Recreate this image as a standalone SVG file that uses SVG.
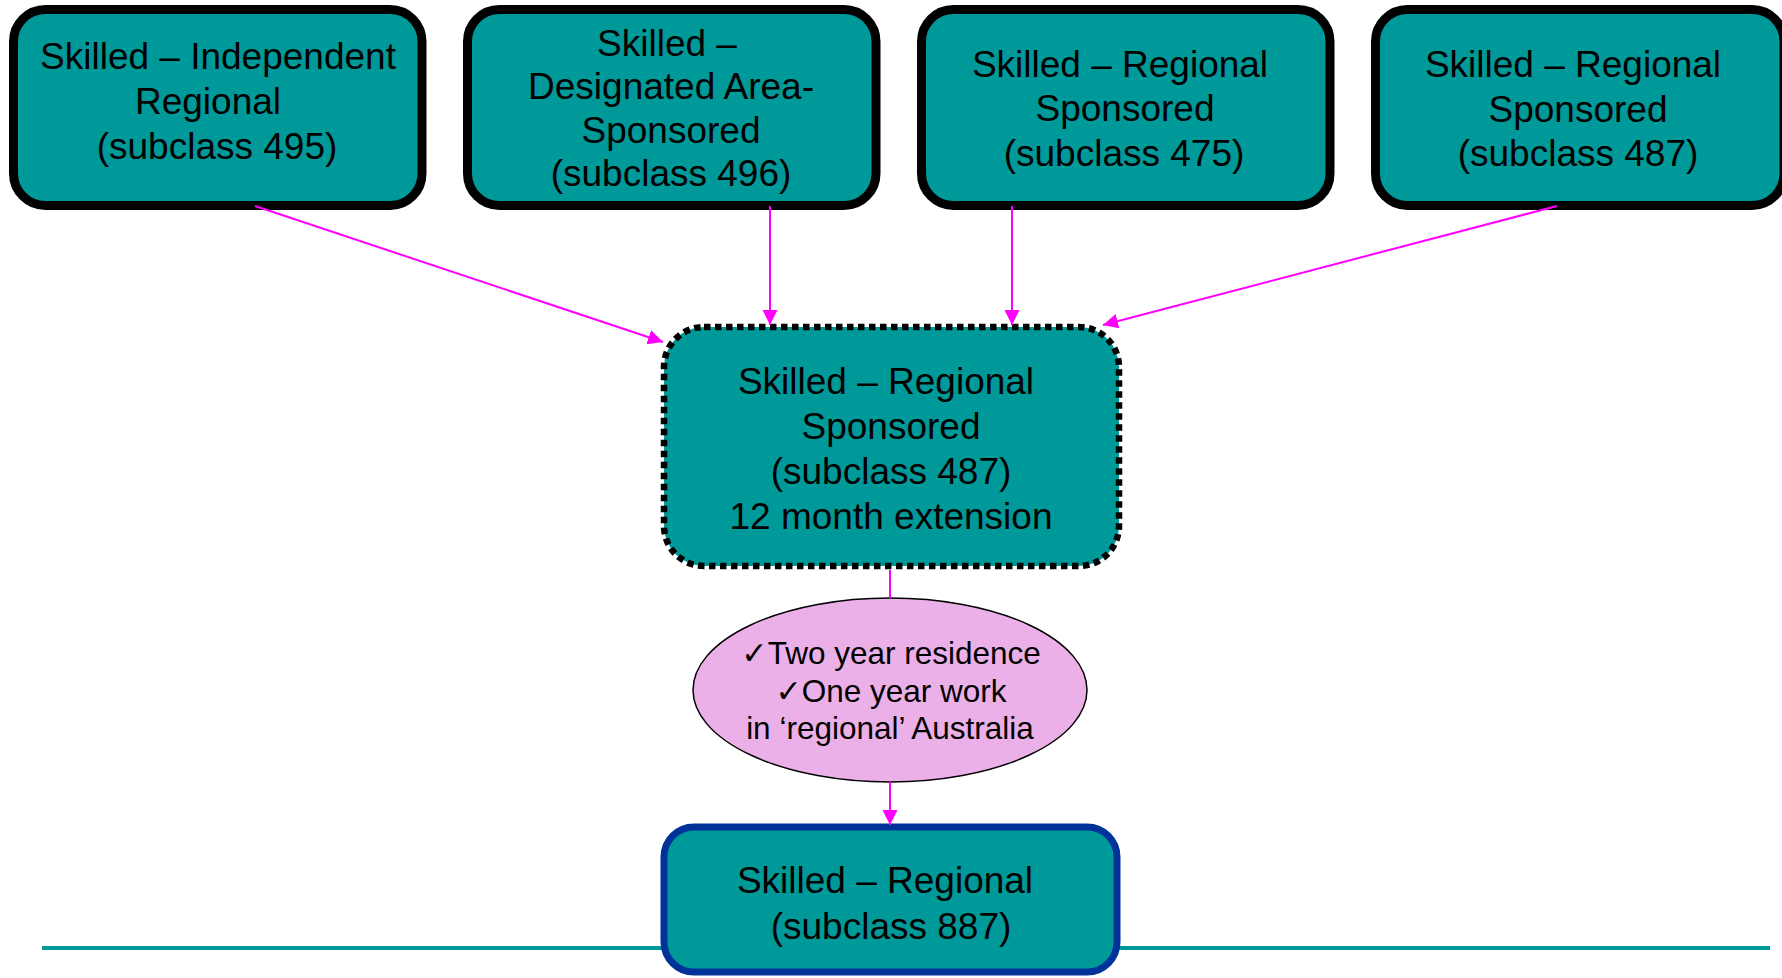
<svg xmlns="http://www.w3.org/2000/svg" width="1782" height="978" viewBox="0 0 1782 978">
<style>
.box{fill:#009999;stroke:#000;stroke-width:9}
.dash{fill:#009999;stroke:#000;stroke-width:6.5;stroke-dasharray:6.5 4.5}
.final{fill:#009999;stroke:#003399;stroke-width:7}
.t{font-family:"Liberation Sans",Arial,sans-serif;font-size:37px;fill:#000;text-anchor:middle}
.e{font-family:"Liberation Sans","DejaVu Sans",Arial,sans-serif;font-size:31.5px;fill:#000;text-anchor:middle}
.c{fill:none;stroke:#FF00FF;stroke-width:2}
</style>
<defs>
<marker id="ah" markerUnits="userSpaceOnUse" markerWidth="16" markerHeight="16" refX="15" refY="7.5" orient="auto">
<path d="M0,0 L15,7.5 L0,15 z" fill="#FF00FF"/>
</marker>
</defs>
<line x1="42" y1="948" x2="1770" y2="948" stroke="#009999" stroke-width="4"/>
<g id="n495">
<rect class="box" x="13.5" y="9.5" width="408.5" height="196" rx="32"/>
<text class="t" x="218" y="69">Skilled – Independent</text>
<text class="t" x="208" y="114">Regional</text>
<text class="t" x="217" y="159">(subclass 495)</text>
</g>
<g id="n496">
<rect class="box" x="467.5" y="9.5" width="408.5" height="196" rx="32"/>
<text class="t" x="667" y="56">Skilled –</text>
<text class="t" x="671" y="99">Designated Area-</text>
<text class="t" x="671" y="143">Sponsored</text>
<text class="t" x="671" y="186">(subclass 496)</text>
</g>
<g id="n475">
<rect class="box" x="921.5" y="9.5" width="408.5" height="196" rx="32"/>
<text class="t" x="1120" y="77">Skilled – Regional</text>
<text class="t" x="1125" y="121">Sponsored</text>
<text class="t" x="1124" y="166">(subclass 475)</text>
</g>
<g id="n487">
<rect class="box" x="1375.5" y="9.5" width="408.5" height="196" rx="32"/>
<text class="t" x="1573" y="77">Skilled – Regional</text>
<text class="t" x="1578" y="122">Sponsored</text>
<text class="t" x="1578" y="166">(subclass 487)</text>
</g>
<g id="n487ext">
<rect class="dash" x="664" y="327" width="455" height="239" rx="40"/>
<text class="t" x="886" y="394">Skilled – Regional</text>
<text class="t" x="891" y="439">Sponsored</text>
<text class="t" x="891" y="484">(subclass 487)</text>
<text class="t" x="891" y="529">12 month extension</text>
</g>
<g id="req">
<ellipse cx="890" cy="690" rx="197" ry="92" fill="#ECB0E8" stroke="#000" stroke-width="1.5"/>
<text class="e" x="891" y="664">✓Two year residence</text>
<text class="e" x="891" y="702">✓One year work</text>
<text class="e" x="890" y="739">in ‘regional’ Australia</text>
</g>
<g id="n887">
<rect class="final" x="664" y="827" width="453" height="145" rx="30"/>
<text class="t" x="885" y="893">Skilled – Regional</text>
<text class="t" x="891" y="939">(subclass 887)</text>
</g>
<g id="connectors">
<path class="c" d="M255,206 L663,342" marker-end="url(#ah)"/>
<path class="c" d="M770,206 L770,325" marker-end="url(#ah)"/>
<path class="c" d="M1012,206 L1012,325" marker-end="url(#ah)"/>
<path class="c" d="M1557,206 L1103,325" marker-end="url(#ah)"/>
<path class="c" d="M890,570 L890,598"/>
<path class="c" d="M890,782 L890,825" marker-end="url(#ah)"/>
</g>
</svg>
